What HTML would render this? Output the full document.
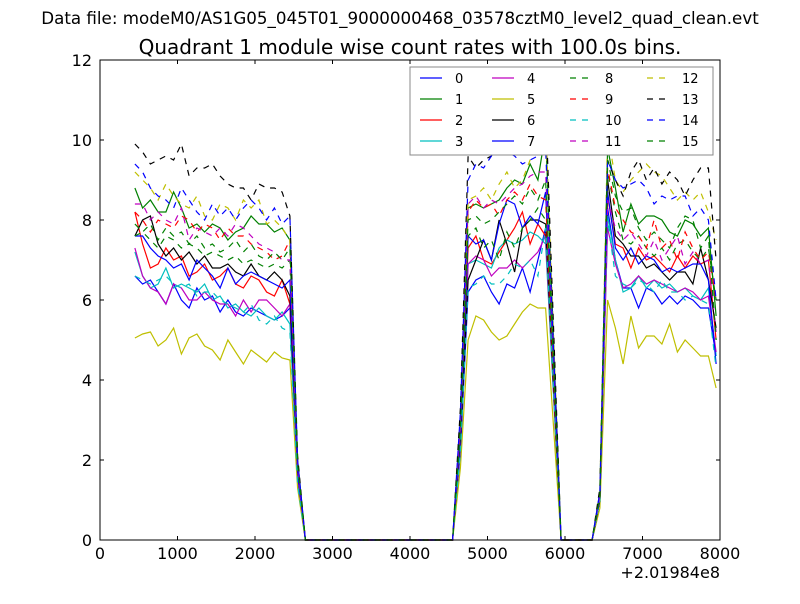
<!DOCTYPE html>
<html><head><meta charset="utf-8"><style>
body{margin:0;background:#fff;font-family:"DejaVu Sans",sans-serif}
svg text{font-family:"DejaVu Sans","Liberation Sans",sans-serif}
</style></head><body>
<svg id="chart" width="800" height="600" xmlns="http://www.w3.org/2000/svg">
<rect width="800" height="600" fill="#fff"/>
<text x="400" y="24" font-size="16.7" text-anchor="middle">Data file: modeM0/AS1G05_045T01_9000000468_03578cztM0_level2_quad_clean.evt</text>
<text x="410" y="54" font-size="20" text-anchor="middle">Quadrant 1 module wise count rates with 100.0s bins.</text>
<g id="plot"></g>
<g id="axes"></g>
<g id="legend"></g>
</svg>
<script>
const times=[450,550,650,750,850,950,1050,1150,1250,1350,1450,1550,1650,1750,1850,1950,2050,2150,2250,2350,2450,2550,2650,4550,4650,4750,4850,4950,5050,5150,5250,5350,5450,5550,5650,5750,5950,6350,6450,6550,6650,6750,6850,6950,7050,7150,7250,7350,7450,7550,7650,7750,7850,7950];
const xTicks=[0,1000,2000,3000,4000,5000,6000,7000,8000];
const yTicks=[0,2,4,6,8,10,12];
const s0=[6.6,6.4,6.5,6.2,5.9,6.4,6.0,5.8,6.3,6.0,6.1,5.7,6.0,5.7,5.6,5.8,5.7,5.6,5.5,5.6,5.8,1.5,0,0,2.2,6.2,6.5,6.6,6.2,5.9,6.4,6.3,6.8,6.2,7.0,7.8,0,0,1,8.3,7.0,6.3,6.3,5.8,6.3,6.2,5.9,6.1,5.9,6.1,6.0,5.8,5.8,4.6];
const s1=[8.8,8.3,8.5,8.2,8.2,8.7,8.3,7.8,7.9,7.7,7.9,7.8,7.5,7.7,7.8,8.1,7.9,7.9,7.7,7.8,7.5,2.0,0,0,3.0,8.3,8.4,8.3,8.4,8.5,8.8,9.0,8.9,9.4,9.0,10.2,0,0,1.2,9.8,8.8,7.7,8.4,7.9,8.1,8.1,8.0,7.7,7.6,8.0,7.9,7.6,7.8,5.6];
const s2=[8.2,7.4,6.8,6.9,7.3,7.0,7.1,6.6,6.7,6.9,6.5,6.6,6.8,6.4,6.3,6.6,6.5,6.2,6.1,6.5,5.9,1.7,0,0,2.6,7.3,7.6,7.0,6.9,7.2,7.5,7.8,8.2,7.4,7.9,7.6,0,0,1,8.6,7.4,7.3,6.8,7.3,7.0,7.1,6.9,6.7,7.1,6.8,7.1,6.9,7.0,5.0];
const s3=[7.2,6.6,6.3,6.4,6.8,6.3,6.4,6.3,6.2,6.4,6.0,6.1,5.8,5.9,5.7,5.6,5.8,5.6,5.5,5.7,5.4,1.5,0,0,2.4,6.9,7.0,6.9,6.8,7.3,7.5,7.4,7.5,7.7,7.6,7.4,0,0,1,8.1,7.0,6.2,6.3,6.6,6.3,6.5,6.3,6.4,6.2,6.3,6.1,6.0,6.3,4.6];
const s4=[7.3,6.6,6.3,6.2,5.9,6.4,6.3,6.0,6.0,6.2,6.0,5.9,5.9,5.6,6.0,5.7,6.0,6.0,5.8,5.6,5.9,1.6,0,0,2.4,6.9,7.1,7.0,6.6,6.8,6.8,7.0,6.8,7.0,7.2,7.6,0,0,1,7.8,6.9,6.3,6.4,6.6,6.4,6.5,6.4,6.3,6.2,6.3,6.2,6.0,6.1,4.7];
const s5=[5.05,5.15,5.2,4.85,5.0,5.3,4.65,5.05,5.15,4.85,4.75,4.5,5.0,4.7,4.4,4.75,4.6,4.45,4.7,4.55,4.5,1.3,0,0,1.8,5.0,5.6,5.5,5.2,5.0,5.1,5.4,5.7,5.9,5.8,5.8,0,0,0.8,6.0,5.3,4.4,5.6,4.8,5.1,5.1,4.9,5.4,4.7,5.0,4.8,4.6,4.6,3.8];
const s6=[7.6,8.0,8.1,7.4,7.1,7.3,7.0,7.2,6.9,7.1,6.8,6.8,6.9,6.7,6.6,6.9,6.6,6.5,6.7,6.5,6.1,1.7,0,0,2.5,6.5,7.0,7.5,7.0,8.0,7.4,6.7,7.8,8.0,8.0,7.9,0,0,1,9.0,7.6,7.4,7.1,7.1,6.8,6.9,6.7,6.5,6.7,6.7,6.4,7.3,6.5,5.3];
const s7=[7.6,7.6,7.3,7.1,7.0,6.8,6.9,6.5,7.0,6.8,6.6,6.3,6.8,6.4,6.6,6.7,6.6,6.5,6.4,6.3,6.5,1.7,0,0,2.6,7.6,7.4,7.5,7.0,7.9,8.5,8.4,7.8,8.1,7.9,8.7,0,0,1,8.7,7.3,7.0,7.3,6.9,7.1,7.0,6.7,6.8,6.7,6.8,6.9,6.9,6.5,4.4];
const s8=[7.6,7.7,7.5,7.3,7.6,7.5,7.3,7.4,7.3,7.1,7.2,7.1,7.0,7.1,6.9,7.0,6.9,6.8,6.9,6.8,7.0,1.8,0,0,2.7,7.6,7.8,7.3,7.5,7.0,7.7,7.3,7.8,8.0,8.3,8.0,0,0,1,9.2,8.2,7.5,7.4,7.6,7.3,7.1,7.3,7.0,7.4,7.5,7.2,7.0,7.3,6.0];
const s9=[8.2,8.0,7.7,8.0,7.9,7.8,8.1,8.0,7.7,7.9,7.8,7.5,7.8,7.6,7.6,7.4,7.3,7.2,7.0,7.1,7.5,1.9,0,0,2.9,8.2,8.5,8.3,8.4,8.1,8.5,8.7,8.5,8.9,8.6,8.5,0,0,1.1,9.3,8.3,8.0,7.7,7.6,7.3,8.0,7.3,7.5,7.0,7.7,7.3,7.0,7.2,6.0];
const s10=[6.6,6.5,6.4,6.5,6.6,6.4,6.3,6.4,6.1,6.2,6.2,6.0,5.9,5.8,5.7,5.9,5.5,5.4,5.6,5.3,5.2,1.4,0,0,2.2,6.3,6.4,6.6,6.4,6.4,6.6,6.9,6.8,7.0,6.6,7.8,0,0,1,8.0,6.6,6.4,6.3,6.5,6.4,6.2,6.5,6.2,6.2,6.0,6.1,6.0,5.9,4.3];
const s11=[8.4,8.4,8.0,8.2,8.0,7.9,8.3,7.5,7.8,7.7,7.6,7.8,7.6,7.9,7.8,7.6,7.4,7.3,7.2,7.0,7.0,1.8,0,0,2.9,8.4,8.6,8.3,8.5,8.4,8.6,8.8,8.9,9.1,9.2,9.2,0,0,1.1,8.5,7.8,7.5,7.7,7.4,7.1,7.5,7.0,7.3,7.6,6.9,7.2,6.9,7.0,5.2];
const s12=[9.2,9.0,8.8,8.5,8.9,8.6,8.4,8.3,8.6,8.1,8.0,8.4,8.3,8.0,8.5,8.3,8.5,7.9,8.0,7.8,7.5,2.0,0,0,3.1,8.5,8.6,8.8,8.5,8.9,9.2,8.8,9.0,9.5,9.8,10.5,0,0,1.2,10.2,9.0,8.7,9.0,9.2,9.4,9.2,9.1,8.8,8.5,8.7,8.5,8.7,8.2,7.5];
const s13=[9.9,9.7,9.4,9.5,9.6,9.5,9.9,9.1,9.3,9.3,9.4,9.1,8.9,8.8,8.8,8.5,8.9,8.8,8.8,8.7,8.1,2.1,0,0,3.3,9.6,9.3,9.5,9.6,10.0,10.5,10.2,9.8,10.3,10.5,10.9,0,0,1.3,9.5,9.0,8.6,9.2,9.5,9.0,9.3,8.9,9.2,9.0,8.6,9.0,9.3,9.3,7.0];
const s14=[9.4,9.2,8.8,8.6,8.5,8.3,8.8,8.5,8.2,8.0,8.4,8.1,8.3,8.0,8.3,8.5,8.3,8.0,8.3,7.9,8.1,2.0,0,0,3.2,9.0,9.4,9.3,9.6,9.9,9.7,9.6,9.4,9.5,9.6,9.8,0,0,1.2,9.5,9.0,8.8,8.9,9.0,8.8,8.4,8.6,8.5,8.6,8.6,8.1,8.3,8.0,6.0];
const s15=[7.9,7.7,7.9,7.5,7.8,7.6,7.7,7.4,7.6,7.3,7.4,7.2,7.3,7.5,7.2,7.4,7.1,7.0,7.2,7.0,7.3,1.9,0,0,2.8,8.0,8.1,7.9,8.0,8.2,8.4,8.6,8.4,8.8,8.5,9.0,0,0,1.1,9.5,8.6,8.2,8.3,7.8,7.5,7.7,7.5,7.3,7.8,8.1,8.0,7.3,7.6,5.0];
const seriesNames=["0","1","2","3","4","5","6","7","8","9","10","11","12","13","14","15"];
const series=[s0,s1,s2,s3,s4,s5,s6,s7,s8,s9,s10,s11,s12,s13,s14,s15];
const colors=["#0000ff","#008000","#ff0000","#00bfbf","#bf00bf","#bfbf00","#000000"];
const NS="http://www.w3.org/2000/svg";
const L=100,R=720,T=60,B=540;
function xs(v){return L+(v-0)/(8000-0)*(R-L);}
function ys(v){return B-(v-0)/(12-0)*(B-T);}
function mk(tag,attrs,parent){const e=document.createElementNS(NS,tag);for(const k in attrs)e.setAttribute(k,attrs[k]);parent.appendChild(e);return e;}
const plot=document.getElementById('plot'),axes=document.getElementById('axes'),leg=document.getElementById('legend');
series.forEach((s,i)=>{
  const d=s.map((v,j)=>(j?'L':'M')+xs(times[j]).toFixed(1)+','+ys(v).toFixed(1)).join(' ');
  const p=mk('path',{d:d,fill:'none',stroke:colors[i%7],'stroke-width':1.2},plot);
  if(i>=8)p.setAttribute('stroke-dasharray','6,6');
  
  
});
const frame=mk('rect',{x:L,y:T,width:R-L,height:B-T,fill:'none',stroke:'#000','stroke-width':1},axes);


xTicks.forEach(v=>{
  const x=xs(v);
  mk('line',{x1:x,y1:B,x2:x,y2:B-4,stroke:'#000'},axes);
  mk('line',{x1:x,y1:T,x2:x,y2:T+4,stroke:'#000'},axes);
  const t=mk('text',{x:x,y:B+19,'font-size':16,'text-anchor':'middle'},axes);
  t.textContent=v;
  
  
});
yTicks.forEach(v=>{
  const y=ys(v);
  mk('line',{x1:L,y1:y,x2:L+4,y2:y,stroke:'#000'},axes);
  mk('line',{x1:R,y1:y,x2:R-4,y2:y,stroke:'#000'},axes);
  const t=mk('text',{x:L-8,y:y+6,'font-size':16,'text-anchor':'end'},axes);
  t.textContent=v;
  
  
});
const off=mk('text',{x:R,y:578,'font-size':16,'text-anchor':'end'},axes);
off.textContent='+2.01984e8';


const box=mk('rect',{x:410,y:67,width:303,height:88,fill:'#fff',stroke:'#888','stroke-width':1},leg);


const colX=[420,492,570,647];
seriesNames.forEach((n,i)=>{
  const c=Math.floor(i/4),r=i%4,x=colX[c],y=78+r*21;
  const g=mk('g',{},leg);
  
  
  const ln=mk('line',{x1:x,y1:y,x2:x+22,y2:y,stroke:colors[i%7],'stroke-width':1.2},g);
  if(i>=8)ln.setAttribute('stroke-dasharray','6,6');
  const t=mk('text',{x:x+35,y:y+5,'font-size':13},g);
  t.textContent=n;
});
</script>
</body></html>
